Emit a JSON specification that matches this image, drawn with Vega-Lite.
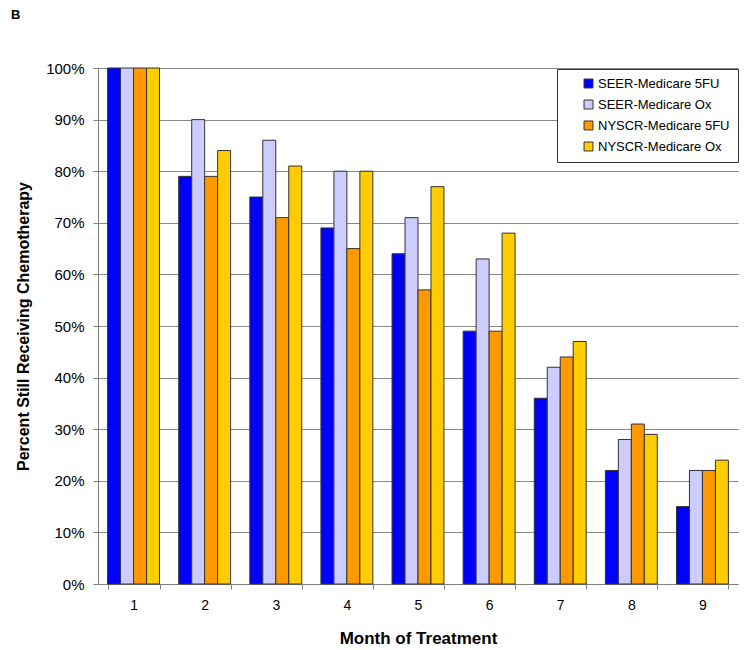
{
  "$schema": "https://vega.github.io/schema/vega-lite/v6.json",
  "width": 640,
  "height": 516,
  "autosize": {"type": "none"},
  "padding": {"left": 98, "top": 68, "right": 12, "bottom": 66},
  "background": "white",
  "config": {
    "font": "Liberation Sans",
    "view": {"stroke": null}
  },
  "title": {"text": "B", "anchor": "start", "frame": "group", "dx": -87, "offset": 39, "fontSize": 13, "fontWeight": "bold", "font": "Liberation Sans", "color": "black"},
  "data": {
    "values": [
      {"month": "1", "series": "SEER-Medicare 5FU", "pct": 100},
      {"month": "1", "series": "SEER-Medicare Ox", "pct": 100},
      {"month": "1", "series": "NYSCR-Medicare 5FU", "pct": 100},
      {"month": "1", "series": "NYSCR-Medicare Ox", "pct": 100},
      {"month": "2", "series": "SEER-Medicare 5FU", "pct": 79},
      {"month": "2", "series": "SEER-Medicare Ox", "pct": 90},
      {"month": "2", "series": "NYSCR-Medicare 5FU", "pct": 79},
      {"month": "2", "series": "NYSCR-Medicare Ox", "pct": 84},
      {"month": "3", "series": "SEER-Medicare 5FU", "pct": 75},
      {"month": "3", "series": "SEER-Medicare Ox", "pct": 86},
      {"month": "3", "series": "NYSCR-Medicare 5FU", "pct": 71},
      {"month": "3", "series": "NYSCR-Medicare Ox", "pct": 81},
      {"month": "4", "series": "SEER-Medicare 5FU", "pct": 69},
      {"month": "4", "series": "SEER-Medicare Ox", "pct": 80},
      {"month": "4", "series": "NYSCR-Medicare 5FU", "pct": 65},
      {"month": "4", "series": "NYSCR-Medicare Ox", "pct": 80},
      {"month": "5", "series": "SEER-Medicare 5FU", "pct": 64},
      {"month": "5", "series": "SEER-Medicare Ox", "pct": 71},
      {"month": "5", "series": "NYSCR-Medicare 5FU", "pct": 57},
      {"month": "5", "series": "NYSCR-Medicare Ox", "pct": 77},
      {"month": "6", "series": "SEER-Medicare 5FU", "pct": 49},
      {"month": "6", "series": "SEER-Medicare Ox", "pct": 63},
      {"month": "6", "series": "NYSCR-Medicare 5FU", "pct": 49},
      {"month": "6", "series": "NYSCR-Medicare Ox", "pct": 68},
      {"month": "7", "series": "SEER-Medicare 5FU", "pct": 36},
      {"month": "7", "series": "SEER-Medicare Ox", "pct": 42},
      {"month": "7", "series": "NYSCR-Medicare 5FU", "pct": 44},
      {"month": "7", "series": "NYSCR-Medicare Ox", "pct": 47},
      {"month": "8", "series": "SEER-Medicare 5FU", "pct": 22},
      {"month": "8", "series": "SEER-Medicare Ox", "pct": 28},
      {"month": "8", "series": "NYSCR-Medicare 5FU", "pct": 31},
      {"month": "8", "series": "NYSCR-Medicare Ox", "pct": 29},
      {"month": "9", "series": "SEER-Medicare 5FU", "pct": 15},
      {"month": "9", "series": "SEER-Medicare Ox", "pct": 22},
      {"month": "9", "series": "NYSCR-Medicare 5FU", "pct": 22},
      {"month": "9", "series": "NYSCR-Medicare Ox", "pct": 24}
    ]
  },
  "mark": {"type": "bar", "stroke": "#333333", "strokeWidth": 1},
  "encoding": {
    "x": {
      "field": "month", "type": "nominal", "sort": null,
      "scale": {"paddingInner": 0.27, "paddingOuter": 0.135},
      "axis": {
        "title": "Month of Treatment", "titleFontSize": 17, "titleFontWeight": "bold", "titleColor": "black", "titlePadding": 18,
        "labelAngle": 0, "labelFontSize": 14, "labelColor": "black", "labelPadding": 9,
        "tickBand": "extent", "tickSize": 5, "tickColor": "#808080", "domainColor": "#808080", "grid": false
      }
    },
    "xOffset": {"field": "series", "type": "nominal", "sort": null, "scale": {"paddingInner": 0, "paddingOuter": 0}},
    "y": {
      "field": "pct", "type": "quantitative",
      "scale": {"domain": [0, 100], "nice": false},
      "axis": {
        "title": "Percent Still Receiving Chemotherapy", "titleFontSize": 16, "titleFontWeight": "bold", "titleColor": "black", "titlePadding": 14,
        "values": [0, 10, 20, 30, 40, 50, 60, 70, 80, 90, 100],
        "labelExpr": "datum.value + '%'", "labelFontSize": 15, "labelColor": "black", "labelPadding": 9,
        "tickSize": 5, "tickColor": "#808080", "domainColor": "#808080",
        "grid": true, "gridColor": "#888888", "gridWidth": 1
      }
    },
    "color": {
      "field": "series", "type": "nominal", "sort": null,
      "scale": {
        "domain": ["SEER-Medicare 5FU", "SEER-Medicare Ox", "NYSCR-Medicare 5FU", "NYSCR-Medicare Ox"],
        "range": ["#0000FF", "#CCCCFF", "#FF9900", "#FFCC00"]
      },
      "legend": {
        "title": null, "orient": "none", "legendX": 459, "legendY": 1,
        "strokeColor": "#333333", "fillColor": "white", "padding": 8,
        "symbolType": "square", "symbolSize": 80, "symbolOffset": 17, "symbolStrokeColor": "#333333", "symbolStrokeWidth": 1,
        "labelFontSize": 13, "labelColor": "black", "labelOffset": 3, "rowPadding": 7, "labelLimit": 200
      }
    }
  }
}
